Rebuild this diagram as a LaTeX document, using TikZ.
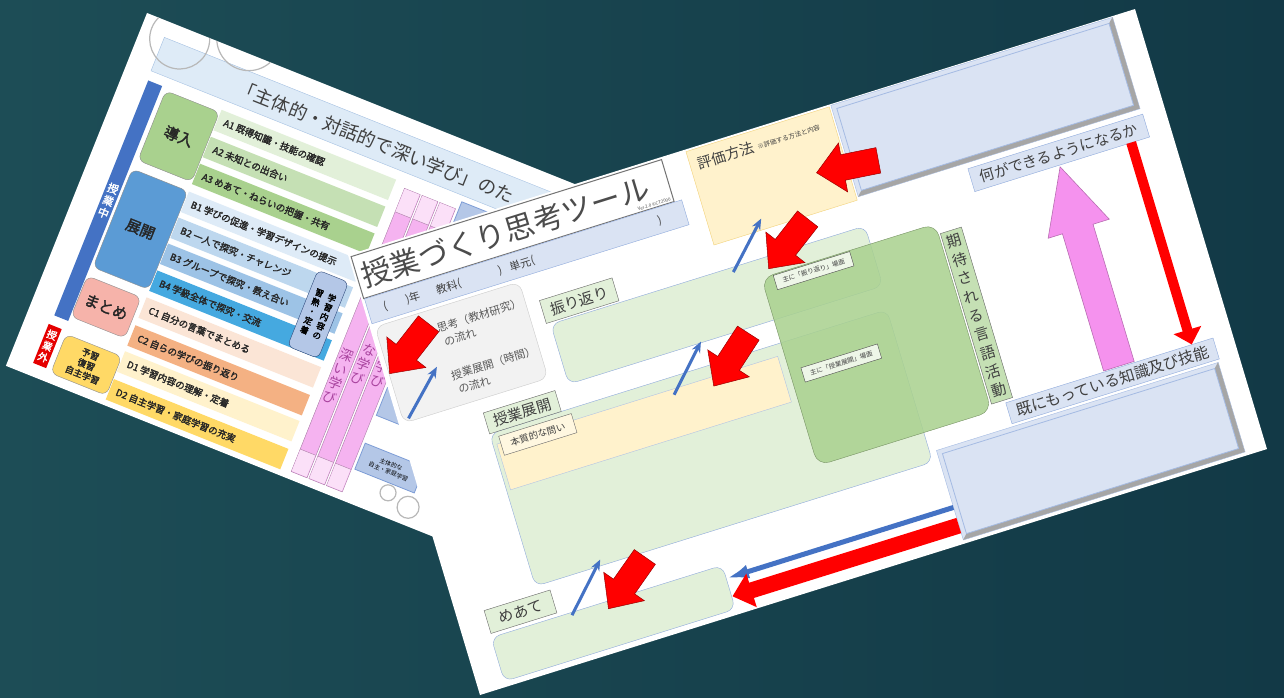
\documentclass[tikz,border=0pt]{standalone}
\usepackage{fontspec}
\setmainfont{Noto Sans CJK JP}
\newfontfamily\jpbold[FakeBold=2]{Noto Sans CJK JP}
\usetikzlibrary{arrows.meta}
\newcommand{\jfs}[1]{\fontsize{#1}{#1}\selectfont}
\definecolor{bgleft}{HTML}{1D4D56}
\definecolor{bgmid}{HTML}{3A796D}
\definecolor{bgright}{HTML}{123946}
\definecolor{inkgrey}{HTML}{404040}
\definecolor{barblue}{HTML}{DEEBF7}
\definecolor{baredge}{HTML}{A7C2E3}
\definecolor{classblue}{HTML}{4472C4}
\definecolor{dounyu}{HTML}{A9D18E}
\definecolor{tenkai}{HTML}{5B9BD5}
\definecolor{matome}{HTML}{F6B3AA}
\definecolor{yoshu}{HTML}{FFD966}
\definecolor{rowA1}{HTML}{E2F0D9}
\definecolor{rowA2}{HTML}{C5E0B4}
\definecolor{rowA3}{HTML}{A9D18E}
\definecolor{rowB1}{HTML}{DEEBF7}
\definecolor{rowB2}{HTML}{BDD7EE}
\definecolor{rowB3}{HTML}{9DC3E6}
\definecolor{rowB4}{HTML}{45A9E0}
\definecolor{rowC1}{HTML}{FBE5D6}
\definecolor{rowC2}{HTML}{F4B183}
\definecolor{rowD1}{HTML}{FFF2CC}
\definecolor{rowD2}{HTML}{FFD966}
\definecolor{recap}{HTML}{B4C7E7}
\definecolor{colpink}{HTML}{F5B3F0}
\definecolor{colcap}{HTML}{FBE0F8}
\definecolor{colink}{HTML}{A8439E}
\definecolor{softgreen}{HTML}{E2F0D9}
\definecolor{midgreen}{HTML}{C5E0B4}
\definecolor{deepgreen}{HTML}{A9D18E}
\definecolor{edgeblue}{HTML}{8FAADC}
\definecolor{paleyellow}{HTML}{FFF2CC}
\definecolor{yellowedge}{HTML}{F2D27A}
\definecolor{paleblue}{HTML}{DAE3F3}
\definecolor{legendgrey}{HTML}{F2F2F2}
\definecolor{flowblue}{HTML}{4472C4}
\definecolor{flowred}{HTML}{FF0000}
\definecolor{pinkarrow}{HTML}{F592EE}
\tikzset{
  rowbar/.style={anchor=north west, minimum width=188, minimum height=22, inner sep=0pt},
  rowtext/.style={anchor=west, inner sep=0pt, font=\jpbold\jfs{9.5}, text=black!85},
  catbox/.style={anchor=north west, draw=black!45, rounded corners=7, inner sep=0pt, align=center, font=\jpbold\jfs{15}, text=black!85},
  sidebar/.style={anchor=north west, inner sep=0pt, align=center, text=white, font=\jpbold\fontsize{11}{13}\selectfont},
  pinkcol/.style={anchor=north west, fill=colpink, draw=colpink!70!black, line width=0.4pt, minimum width=17, minimum height=305, inner sep=0pt},
  colword/.style={align=center, inner sep=0pt, text=colink, font=\fontsize{13.5}{15}\selectfont},
  smallblue/.style={anchor=north west, fill=recap, draw=classblue!70, line width=0.8pt, inner sep=0pt},
  ringline/.style={draw=black!28, line width=1.2pt},
  greenbox/.style={anchor=north west, fill=softgreen, draw=edgeblue, rounded corners=9, inner sep=0pt},
  tagbox/.style={anchor=north west, fill=softgreen, draw=black!60, inner sep=0pt, text=inkgrey, font=\jfs{15}},
  minitag/.style={anchor=north west, fill=softgreen!60, draw=black!70, inner sep=0pt, minimum width=80, minimum height=15, text=inkgrey, font=\jfs{6.5}},
  infotext/.style={anchor=west, inner sep=0pt, text=inkgrey, font=\jfs{11}},
  legendtext/.style={anchor=north west, align=left, inner sep=0pt, text=black!65, font=\fontsize{11}{15}\selectfont},
  bevelshade/.style={fill=black!35},
  bevelline/.style={draw=edgeblue!80, line width=0.8pt},
  pinkup/.style={fill=pinkarrow, draw=pinkarrow!75!black, line width=0.6pt},
  flowup/.style={draw=flowblue, line width=3pt, -{Stealth[length=11pt,width=9pt]}},
  flowdown/.style={draw=flowred, line width=10pt, -{Triangle[length=15pt,width=28pt]}},
  flowbackblue/.style={draw=flowblue, line width=5pt, -{Latex[length=22pt,width=14pt]}},
  flowbackred/.style={draw=flowred, line width=16pt, -{Triangle[length=20pt,width=34pt]}},
  redblock/.pic={\draw[draw=red!60!black, line width=0.5pt, fill=flowred] (-31,-13) -- (5,-13) -- (5,-25) -- (32,0) -- (5,25) -- (5,13) -- (-31,13) -- cycle;}
}
\begin{document}
\begin{tikzpicture}[x=1pt, y=-1pt]
  \useasboundingbox (0,0) rectangle (1284,698);
  \shade[left color=bgleft, middle color=bgmid, right color=bgright] (0,0) rectangle (1284,698);

  % back sheet
  \begin{scope}[shift={(147,13)}, rotate=-21.8, every node/.append style={transform shape}]
    \fill[white] (0,0) rectangle (530,380);
    \begin{scope}
      \clip (0,0) rectangle (530,380);
      \node[anchor=north west, minimum width=510, minimum height=36, inner sep=0pt, fill=barblue, draw=baredge] (mainbar) at (25,16) {};
      \draw[ringline] (40,12) circle[radius=30pt];
      \draw[ringline] (104,-14) circle[radius=32pt];
      \node[anchor=west, inner sep=0pt, font=\jfs{18.5}, text=inkgrey] (maintitle) at (112,35) {「主体的・対話的で深い学び」のた};
    \end{scope}

    \node[sidebar, fill=classblue, minimum width=15, minimum height=253] (inclass) at (26,62) {授\\業\\中};
    \node[sidebar, fill=red!90!black, minimum width=14, minimum height=42, font=\jpbold\fontsize{10}{12}\selectfont] (outclass) at (24,325) {授\\業\\外};
    \node[catbox, fill=dounyu, minimum width=58, minimum height=75] (dounyu) at (46,65) {導入};
    \node[catbox, fill=tenkai, minimum width=60, minimum height=106] (tenkai) at (44,150) {展開};
    \node[catbox, fill=matome, minimum width=58, minimum height=44] (matome) at (42,266) {まとめ};
    \node[catbox, fill=yoshu, minimum width=60, minimum height=42, font=\jpbold\fontsize{9}{11}\selectfont] (yoshu) at (44,328) {予習\\復習\\自主学習};

    \foreach \rowv/\rowcol/\rowtxt [count=\rowno] in {
      62/rowA1/{A1 既得知識・技能の確認},
      91/rowA2/{A2 未知との出合い},
      120/rowA3/{A3 めあて・ねらいの把握・共有},
      150/rowB1/{B1 学びの促進・学習デザインの提示},
      178/rowB2/{B2 一人で探究・チャレンジ},
      206/rowB3/{B3 グループで探究・教え合い},
      235/rowB4/{B4 学級全体で探究・交流},
      264/rowC1/{C1 自分の言葉でまとめる},
      294/rowC2/{C2 自らの学びの振り返り},
      322/rowD1/{D1 学習内容の理解・定着},
      352/rowD2/{D2 自主学習・家庭学習の充実}}
    {
      \node[rowbar, fill=\rowcol] (row\rowno) at (105,\rowv) {};
      \node[rowtext] (rowlabel\rowno) at (112,\rowv+11) {\rowtxt};
    }

    \node[anchor=north west, fill=recap, draw=classblue!60!black, rounded corners=6, minimum width=33, minimum height=82, inner sep=0pt] (recapbox) at (254,175) {};
    \node[align=center, inner sep=0pt, font=\jpbold\fontsize{8.5}{10}\selectfont] (recapright) at (277.5,216) {学\\習\\内\\容\\の};
    \node[align=center, inner sep=0pt, font=\jpbold\fontsize{8.5}{10}\selectfont] (recapleft) at (264,216) {習\\熟\\・\\定\\着};

    \foreach \colu/\colv/\colwords [count=\colno] in {304/266/{深\\い\\学\\び}, 323/245.5/{な\\学\\び}, 342/248.5/{学\\び}}
    {
      \node[pinkcol] (pinkcol\colno) at (\colu,67) {};
      \fill[colcap] (\colu+0.5,67.5) rectangle ++(16,25);
      \fill[colcap] (\colu+0.5,348) rectangle ++(16,23.5);
      \draw[colpink!70!black] (\colu,92.5) -- ++(17,0) (\colu,348) -- ++(17,0);
      \node[colword] (pinkword\colno) at (\colu+8.5,\colv) {\colwords};
    }

    \node[smallblue, minimum width=34, minimum height=28] (bluetop) at (362,58) {};
    \node[smallblue, minimum width=28, minimum height=30] (bluemid) at (362,258) {};
    \node[smallblue, minimum width=64, minimum height=28, align=center, font=\fontsize{6}{7.5}\selectfont] (selfstudy) at (362,318) {主体的な\\自主・家庭学習};
    \draw[ringline, fill=white] (402,356) circle[radius=8pt];
    \draw[ringline, fill=white] (426,362) circle[radius=11pt];
  \end{scope}

  % front sheet
  \begin{scope}[cm={0.9551,0.2985,-0.2857,0.9524,(348,255)}, every node/.append style={transform shape}]
    \fill[white] (0,0) rectangle (824,462);

    \node[anchor=north west, draw=black!55, line width=1pt, fill=white, minimum width=325, minimum height=44, inner sep=0pt] (toolbox) at (2,2) {};
    \node[anchor=west, inner sep=0pt, font=\jfs{30}, text=black!70] (tooltitle) at (7,25) {授業づくり思考ツール};
    \node[anchor=south east, inner sep=1pt, font=\jfs{4.5}, text=black!70] (toolver) at (326,46) {Ver.2.0 ©CT2000};
    \node[anchor=north west, fill=paleblue, draw=edgeblue, minimum width=332, minimum height=26, inner sep=0pt] (infobar) at (3,47) {};
    \node[infotext] (nen) at (19,61) {(};
    \node[infotext] (nenend) at (42,61) {)年};
    \node[infotext] (kyoka) at (74,61) {教科(};
    \node[infotext] (kyokaend) at (139,61) {)};
    \node[infotext] (tangen) at (151,61) {単元(};
    \node[infotext] (tangenend) at (306,61) {)};

    \node[anchor=north west, fill=legendgrey, draw=black!20, rounded corners=9, minimum width=151, minimum height=101, inner sep=0pt] (legend) at (5,77) {};
    \pic[rotate=215] (legendred) at (32,108) {redblock};
    \coordinate (legendtail) at (11,175);
    \coordinate (legendtip) at (53,134);
    \draw[flowup] (legendtail) -- (legendtip);
    \node[legendtext] (shikoflow) at (64,92) {思考（教材研究）\\\hspace*{3pt}の流れ};
    \node[legendtext] (jugyoflow) at (64,142) {授業展開（時間）\\\hspace*{3pt}の流れ};

    \node[anchor=north west, fill=paleyellow, draw=yellowedge, minimum width=150, minimum height=98, inner sep=0pt] (hyoka) at (353,2) {};
    \node[anchor=west, inner sep=0pt, font=\jfs{14.5}, text=inkgrey] (hyokatitle) at (361,18) {評価方法};
    \node[anchor=west, inner sep=0pt, font=\jfs{6.5}, text=inkgrey] (hyokanote) at (423,19) {※評価する方法と内容};

    \node[anchor=north west, fill=paleblue, draw=edgeblue!80, minimum width=295, minimum height=96, inner sep=0pt] (goal) at (505,1) {};
    \fill[bevelshade] (800,1) -- (800,97) -- (505,97) -- (510,92) -- (795,92) -- (795,6) -- cycle;
    \draw[bevelline] (510,6) rectangle (795,92);
    \node[anchor=north west, fill=paleblue, draw=edgeblue, minimum width=183, minimum height=24, inner sep=0pt, font=\jfs{15}, text=inkgrey] (goaltag) at (618,103) {何ができるようになるか};

    \node[greenbox, minimum width=329, minimum height=63] (furibox) at (174,127) {};
    \node[tagbox, minimum width=76, minimum height=24] (furitag) at (170,101) {振り返り};

    \node[greenbox, minimum width=416, minimum height=160] (tenkaibox) at (84,214) {};
    \node[anchor=north west, fill=paleyellow, draw=edgeblue!70, minimum width=294, minimum height=48, inner sep=0pt] (toistrip) at (88,226) {};
    \node[tagbox, minimum width=75, minimum height=22] (tenkaitag) at (84,192) {授業展開};
    \node[tagbox, fill=paleyellow!60, minimum width=76, minimum height=20, font=\jfs{9.5}] (toitag) at (92,219) {本質的な問い};

    \node[greenbox, minimum width=242, minimum height=46] (meatebox) at (27,410) {};
    \node[tagbox, minimum width=69, minimum height=24] (meatetag) at (28,382) {めあて};

    \node[anchor=north west, fill=deepgreen, fill opacity=0.85, draw=deepgreen!70!black, rounded corners=12, minimum width=182, minimum height=197, inner sep=0pt] (gengobox) at (389,146) {};
    \node[tagbox, fill=midgreen, minimum width=22, minimum height=179, align=center, font=\fontsize{15}{19.6}\selectfont] (gengotag) at (573,157) {期\\待\\さ\\れ\\る\\言\\語\\活\\動};
    \node[minitag] (furiscene) at (401,147) {主に「振り返り」場面};
    \node[minitag] (tenkaiscene) at (401,244) {主に「授業展開」場面};

    \node[anchor=north west, fill=paleblue, draw=edgeblue!80, minimum width=295, minimum height=94, inner sep=0pt] (known) at (507,364) {};
    \fill[bevelshade] (802,364) -- (802,458) -- (507,458) -- (512,453) -- (797,453) -- (797,369) -- cycle;
    \draw[bevelline] (512,369) rectangle (797,453);
    \draw[pinkup] (690,338) -- (690,194) -- (675,194) -- (707,129) -- (739,194) -- (722,194) -- (722,338) -- cycle;
    \node[anchor=north west, fill=paleblue, draw=edgeblue, minimum width=217, minimum height=22, inner sep=0pt, font=\jfs{15.5}, text=inkgrey] (knowntag) at (587,339) {既にもっている知識及び技能};

    \coordinate (downtail) at (782,127);
    \coordinate (downtip) at (782,339);
    \draw[flowdown] (downtail) -- (downtip);
    \coordinate (bluebacktail) at (507,424);
    \coordinate (bluebacktip) at (270,424);
    \draw[flowbackblue] (bluebacktail) -- (bluebacktip);
    \coordinate (redbacktail) at (507,443);
    \coordinate (redbacktip) at (270,443);
    \draw[flowbackred] (redbacktail) -- (redbacktip);

    \pic[rotate=174] (goalred) at (504,65) {redblock};
    \pic[rotate=215] (evalred) at (425,121) {redblock};
    \pic[rotate=220] (midred) at (337,215) {redblock};
    \pic[rotate=218] (lowred) at (173,398) {redblock};
    \coordinate (evaltail) at (364,132);
    \coordinate (evaltip) at (406,89);
    \draw[flowup] (evaltail) -- (evaltip);
    \coordinate (midtail) at (272,232);
    \coordinate (midtip) at (313,189);
    \draw[flowup] (midtail) -- (midtip);
    \coordinate (lowtail) at (111,413);
    \coordinate (lowtip) at (154,368);
    \draw[flowup] (lowtail) -- (lowtip);
  \end{scope}
\end{tikzpicture}
\end{document}
